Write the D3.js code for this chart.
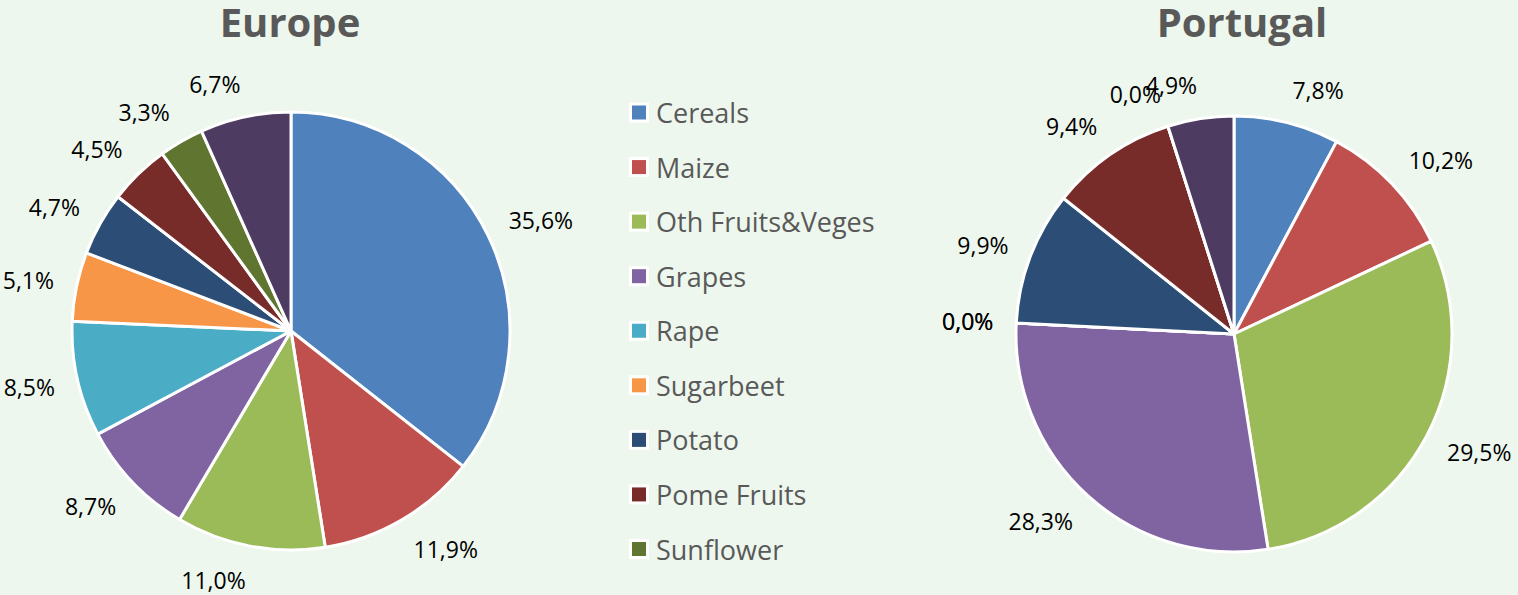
<!DOCTYPE html>
<html><head><meta charset="utf-8">
<script src="https://cdn.jsdelivr.net/npm/d3@7"></script>
<style>
html,body{margin:0;padding:0;background:#EDF7ED;}
svg{display:block;}
</style></head>
<body><svg id="c" width="1518" height="595"></svg>
<script>
const categories = ["Cereals","Maize","Oth Fruits&Veges","Grapes","Rape","Sugarbeet","Potato","Pome Fruits","Sunflower","Others"];
const europeValues = [35.6,11.9,11.0,8.7,8.5,5.1,4.7,4.5,3.3,6.7];
const portugalValues = [7.8,10.2,29.5,28.3,0.0,0.0,9.9,9.4,0.0,4.9];
const colors = ["#4F81BD","#C0504D","#9BBB59","#8064A2","#4BACC6","#F79646","#2C4D75","#772C2A","#5F7530","#4D3B62"];
const legendCount = 9; // legend box shows the first nine entries

const svg = d3.select("#c");
const color = d3.scaleOrdinal().domain(categories).range(colors);
const fmt = v => v.toFixed(1).replace(".", ",") + "%";

function drawPie(title, values, cx, cy, R, titleX) {
  const data = categories.map((c,i)=>({cat:c, v:values[i]}));
  const pie = d3.pie().sort(null).value(d=>d.v).startAngle(0).endAngle(2*Math.PI);
  const arcs = pie(data);
  const arc = d3.arc().innerRadius(0).outerRadius(R);
  const g = svg.append("g").attr("transform",`translate(${cx},${cy})`);
  g.selectAll("path").data(arcs).join("path")
    .attr("d",arc).attr("fill",d=>color(d.data.cat))
    .attr("stroke","#fff").attr("stroke-width",3).attr("stroke-linejoin","round");
  const labels = g.selectAll("text.lab").data(arcs).join("text")
    .attr("class","lab")
    .attr("font-family","'Open Sans', sans-serif").attr("font-size",23)
    .attr("fill","#000").attr("text-anchor","middle").attr("dominant-baseline","central")
    .text(d=>fmt(d.data.v));
  labels.each(function(d){
    const w = this.getComputedTextLength();
    const a = (d.startAngle + d.endAngle)/2;
    const s = Math.sin(a), c = -Math.cos(a);
    const D = R + 23;
    const x = s*D + Math.sign(s)*w/2;
    const y = c*(D + 11);
    d3.select(this).attr("x", x).attr("y", y);
  });
  svg.append("text").attr("x",titleX).attr("y",37)
    .attr("text-anchor","middle").attr("font-family","'Open Sans', sans-serif")
    .attr("font-weight","bold").attr("font-size",40).attr("fill","#595959")
    .text(title);
}

drawPie("Europe", europeValues, 291, 331, 219, 290);
drawPie("Portugal", portugalValues, 1234, 334, 218, 1242);

// legend
const legY = d3.scalePoint().domain(categories.slice(0,legendCount)).range([112.5, 549]);
const leg = svg.append("g");
const items = leg.selectAll("g").data(categories.slice(0,legendCount)).join("g")
  .attr("transform",d=>`translate(0,${legY(d)})`);
items.append("rect").attr("x",629).attr("y",-10).attr("width",20).attr("height",20).attr("fill","#fff");
items.append("rect").attr("x",632).attr("y",-7).attr("width",14).attr("height",14).attr("fill",d=>color(d));
items.append("text").attr("x",656).attr("y",0).attr("dominant-baseline","central")
  .attr("font-family","'Open Sans', sans-serif").attr("font-size",27).attr("fill","#595959")
  .text(d=>d);
</script></body></html>
